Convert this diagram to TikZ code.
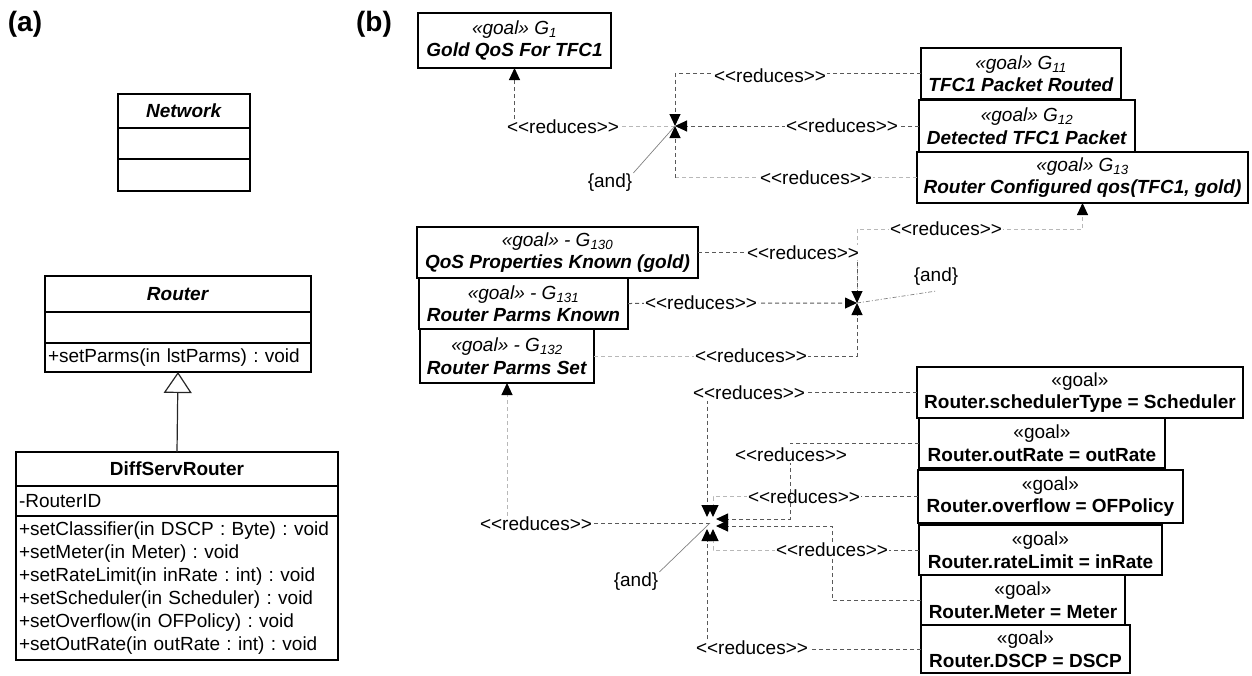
\documentclass[tikz,border=0pt]{standalone}
\usepackage{fontspec}
\setmainfont{Liberation Sans}
\usetikzlibrary{arrows.meta}
\frenchspacing
\newcommand\rdc{<\kern0pt<reduces>\kern0pt>}
\newcommand\gl[1]{\textit{«goal» G\textsubscript{#1}}}
\newcommand\gld[1]{\textit{«goal» - G\textsubscript{#1}}}
\definecolor{darkc}{gray}{0.35}
\definecolor{lightc}{gray}{0.72}
\begin{document}
\frenchspacing
\begin{tikzpicture}[x=1pt,y=-1pt,
  font=\fontsize{19}{22.5}\selectfont,
  cls/.style={draw, line width=1.4pt, inner sep=0pt, outer sep=0pt, anchor=north west},
  lcls/.style={cls, align=left, inner xsep=3pt},
  goal/.style={draw, line width=1.8pt, inner sep=0pt, outer sep=0pt, anchor=north west, align=center},
  dep/.style={line width=1pt, dash pattern=on 4pt off 3pt, draw=darkc},
  ldep/.style={dep, draw=lightc},
  arr/.style={-{Triangle[length=12pt,width=11pt,color=black]}},
  lbl/.style={fill=white, inner sep=1pt},
  andl/.style={draw=gray, line width=0.7pt},
  andt/.style={inner sep=1pt}
]
\useasboundingbox (0,0) rectangle (1252,675);

% panel labels
\node[font=\fontsize{28}{32}\selectfont\bfseries] (pa) at (25,24) {(a)};
\node[font=\fontsize{28}{32}\selectfont\bfseries] (pb) at (374,24) {(b)};

% ---------- (a) classes
\node[cls, minimum width=132pt, minimum height=34pt] (Nh) at (118,94) {\textbf{\textit{Network}}};
\node[cls, minimum width=132pt, minimum height=31pt] (Na) at (118,128) {};
\node[cls, minimum width=132pt, minimum height=32pt] (No) at (118,159) {};

\node[cls, minimum width=266pt, minimum height=36pt] (Rh) at (45,276) {\textbf{\textit{Router}}};
\node[cls, minimum width=266pt, minimum height=31pt] (Ra) at (45,312) {};
\node[lcls, text width=260pt, minimum height=29pt] (Ro) at (45,343) {+setParms(in lstParms) : void};

\node[cls, minimum width=322pt, minimum height=34pt] (Dh) at (16,452) {\textbf{DiffServRouter}};
\node[lcls, text width=316pt, minimum height=30pt] (Da) at (16,486) {-RouterID};
\node[lcls, text width=316pt, minimum height=144pt, font=\fontsize{19}{23}\selectfont] (Do) at (16,516)
 {+setClassifier(in DSCP : Byte) : void\\
  +setMeter(in Meter) : void\\
  +setRateLimit(in inRate : int) : void\\
  +setScheduler(in Scheduler) : void\\
  +setOverflow(in OFPolicy) : void\\
  +setOutRate(in outRate : int) : void};

\draw[line width=1.2pt, draw=black!85, -{Triangle[open,length=21pt,width=28pt,line width=1.2pt]}] (Dh.north) -- (Ro.south);

% ---------- (b) goals
\node[goal, line width=2.2pt, minimum width=193pt, minimum height=55pt] (G1) at (418,13) {\gl{1}\\\textbf{\textit{Gold QoS For TFC1}}};
\node[goal, minimum width=200pt, minimum height=51pt] (G11) at (921,48) {\gl{11}\\\textbf{\textit{TFC1 Packet Routed}}};
\node[goal, minimum width=216pt, minimum height=52pt] (G12) at (919,100) {\gl{12}\\\textbf{\textit{Detected TFC1 Packet}}};
\node[goal, minimum width=331pt, minimum height=51pt] (G13) at (917,152) {\gl{13}\\\textbf{\textit{Router Configured qos(TFC1, gold)}}};
\node[goal, minimum width=281pt, minimum height=51pt] (G130) at (417,227) {\gld{130}\\\textbf{\textit{QoS Properties Known (gold)}}};
\node[goal, minimum width=209pt, minimum height=51pt] (G131) at (419,278) {\gld{131}\\\textbf{\textit{Router Parms Known}}};
\node[goal, minimum width=174pt, minimum height=54pt] (G132) at (420,329) {\gld{132}\\\textbf{\textit{Router Parms Set}}};

\node[goal, minimum width=326pt, minimum height=51pt] (Sch) at (917,367) {«goal»\\\textbf{Router.schedulerType = Scheduler}};
\node[goal, minimum width=246pt, minimum height=50pt] (OR) at (919,418) {«goal»\\\textbf{Router.outRate = outRate}};
\node[goal, minimum width=265pt, minimum height=53pt] (OF) at (918,470) {«goal»\\\textbf{Router.overflow = OFPolicy}};
\node[goal, minimum width=243pt, minimum height=50pt] (RL) at (919,525) {«goal»\\\textbf{Router.rateLimit = inRate}};
\node[goal, minimum width=204pt, minimum height=50pt] (Me) at (921,575) {«goal»\\\textbf{Router.Meter = Meter}};
\node[goal, minimum width=209pt, minimum height=48pt] (DS) at (921,625) {«goal»\\\textbf{Router.DSCP = DSCP}};

% junctions
\coordinate (J1) at (675,126);
\coordinate (J2) at (857,303);
\coordinate (J3) at (710,523);

% ---- junction 1
\coordinate (k1) at (514.5,126);
\draw[ldep] (J1) -- (k1);
\draw[dep,arr] (k1) -- (G1.south);
\node[lbl] (l1) at (563,127) {\rdc};

\draw[dep,arr] (G11.west) -| (J1);
\node[lbl] (l2) at (770,76) {\rdc};

\draw[dep,arr] (G12.west) -- (J1);
\node[lbl] (l3) at (842,126) {\rdc};

\coordinate (k4) at (675,177.5);
\draw[ldep] (G13.west) -- (k4);
\draw[dep,arr] (k4) -- (J1);
\node[lbl] (l4) at (816,178) {\rdc};

\node[andt] (a1) at (610,183) {\{and\}};
\draw[andl] (J1) -- (a1.north east);

% ---- junction 2
\coordinate (k5) at (857,229);
\draw[ldep,arr] (J2) -- (k5) -| (G13.south);
\node[lbl] (l5) at (946,229) {\rdc};

\draw[dep,arr] (G130.east) -| (J2);
\node[lbl] (l6) at (803,252.5) {\rdc};

\draw[dep,arr] (G131.east) -- (J2);
\node[lbl] (l7) at (701,303) {\rdc};

\coordinate (k8) at (751,356);
\draw[ldep] (G132.east) -- (k8);
\draw[dep,arr] (k8) -| (J2);
\node[lbl] (l8) at (k8) {\rdc};

\node[andt] (a2) at (936,277) {\{and\}};
\draw[andl, dash pattern=on 4pt off 2pt on 1pt off 2pt] (J2) -- ([yshift=-4pt]a2.south);

% ---- junction 3
\coordinate (k9) at (507,523);
\draw[dep] (J3) -- (k9);
\draw[ldep,arr] (k9) -- (G132.south);
\node[lbl] (l9) at (536,524) {\rdc};

\coordinate (e1) at (707,517);
\coordinate (e2) at (716,519);
\coordinate (e3) at (713,517);
\coordinate (e4) at (713,529);
\coordinate (e5) at (716,526);
\coordinate (e6) at (707,529);

\draw[dep,arr] (Sch.west) -| (e1);
\node[lbl] (s1) at (749,393) {\rdc};

\coordinate (k3) at (804,496.5);
\draw[dep] (OF.west) -- (k3);
\draw[ldep,arr] (k3) -| (e3);
\node[lbl] (s3) at (k3) {\rdc};

\coordinate (q2) at (790,443);
\draw[dep,arr] (OR.west) -- (q2) |- (e2);
\node[lbl] (s2) at (791,455) {\rdc};

\coordinate (q5) at (832,600);
\draw[dep,arr] (Me.west) -- (q5) |- (e5);

\coordinate (q4) at (832,550);
\draw[dep] (RL.west) -- (q4);
\draw[ldep,arr] (q4) -| (e4);
\node[lbl] (s4) at (q4) {\rdc};

\draw[dep,arr] (DS.west) -| (e6);
\node[lbl] (s6) at (752,648) {\rdc};

\node[andt] (a3) at (636,582) {\{and\}};
\draw[andl] (J3) -- (a3.north east);

\end{tikzpicture}
\end{document}
